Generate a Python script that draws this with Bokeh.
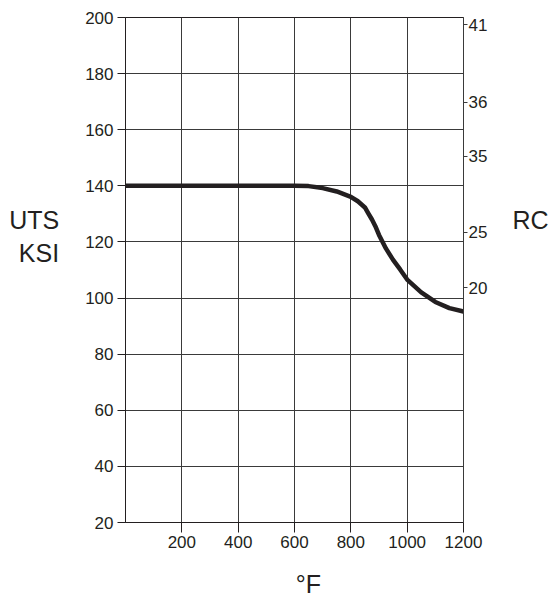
from bokeh.plotting import figure
from bokeh.models import Range1d, LinearAxis, FixedTicker, Grid
from bokeh.embed import file_html
from bokeh.resources import INLINE

# ---- data ----
temp_f = [0, 600, 650, 700, 750, 800, 825, 850, 862, 875, 887, 900, 925, 950, 975, 1000, 1050, 1100, 1150, 1200]
uts_ksi = [140, 140, 139.9, 139.2, 138.0, 136.1, 134.5, 132.3, 130.2, 128.0, 125.6, 122.5, 117.6, 113.6, 110.2, 106.6, 102.0, 98.6, 96.4, 95.2]

x_ticks = [200, 400, 600, 800, 1000, 1200]
y_ticks = [20, 40, 60, 80, 100, 120, 140, 160, 180, 200]
rc_tick_ksi = [197.4, 169.8, 150.5, 123.4, 103.6]
rc_tick_labels = ["41", "36", "35", "25", "20"]

FONT = "Liberation Sans"
TXT = "#231f20"
GRID = "#3a3a3a"

p = figure(width=552, height=600, output_backend="svg", toolbar_location=None,
           x_range=Range1d(0, 1200), y_range=Range1d(20, 200),
           x_axis_location=None, y_axis_location=None,
           min_border_left=125, min_border_right=89,
           min_border_top=17, min_border_bottom=78)
p.background_fill_color = "white"
p.border_fill_color = "white"
p.outline_line_color = TXT
p.outline_line_width = 1

# axes
xa = LinearAxis(ticker=FixedTicker(ticks=x_ticks), axis_label="\u00a0\u00a0\u00a0\u00a0°F")
ya = LinearAxis(ticker=FixedTicker(ticks=y_ticks), axis_label="UTS\nKSI\n\n")
ra = LinearAxis(ticker=FixedTicker(ticks=rc_tick_ksi), axis_label="RC\n\n\n",
                major_label_overrides={v: l for v, l in zip(rc_tick_ksi, rc_tick_labels)})
for ax in (xa, ya, ra):
    ax.major_label_text_font = FONT
    ax.major_label_text_font_size = "17px"
    ax.major_label_text_color = TXT
    ax.axis_label_text_font = FONT
    ax.axis_label_text_font_size = "25px"
    ax.axis_label_text_font_style = "normal"
    ax.axis_label_text_color = TXT
    ax.major_tick_in = 0
    ax.minor_tick_line_color = None
    ax.axis_line_color = TXT
    ax.major_tick_line_color = TXT
ya.axis_label_orientation = "horizontal"
ra.axis_label_orientation = "horizontal"
xa.major_tick_out = 10
xa.major_label_standoff = 3
xa.axis_label_standoff = 19
ya.major_tick_out = 8
ya.major_label_standoff = 4
ya.axis_label_standoff = 23
ra.major_tick_out = 4
ra.major_label_standoff = 1
ra.axis_label_standoff = 22
ra.axis_line_color = GRID
ra.major_tick_line_color = GRID
p.add_layout(xa, "below")
p.add_layout(ya, "left")
p.add_layout(ra, "right")

# grid
p.xgrid.grid_line_color = None
p.ygrid.grid_line_color = None
p.add_layout(Grid(dimension=0, ticker=FixedTicker(ticks=x_ticks), grid_line_color=GRID, grid_line_width=1))
p.add_layout(Grid(dimension=1, ticker=FixedTicker(ticks=y_ticks), grid_line_color=GRID, grid_line_width=1))

# curve
p.line(temp_f, uts_ksi, line_width=4.5, line_color=TXT, line_join="round", line_cap="round")

open("out.html", "w").write(file_html(p, INLINE))
